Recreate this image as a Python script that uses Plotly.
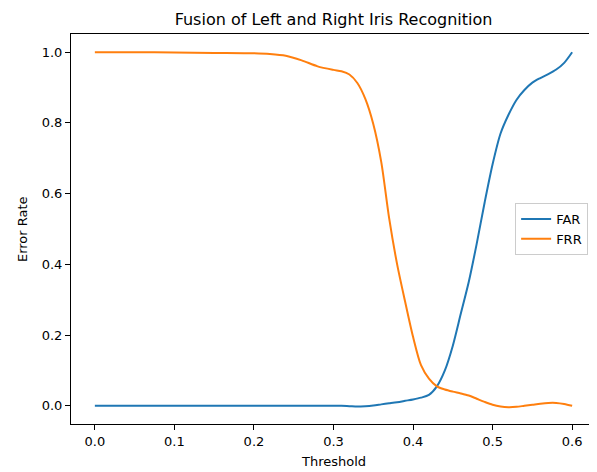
import plotly.graph_objects as go

threshold = [0.00, 0.05, 0.10, 0.15, 0.20, 0.22, 0.24, 0.26, 0.28, 0.30,
             0.31, 0.32, 0.33, 0.34, 0.35, 0.36, 0.37, 0.38, 0.39, 0.40,
             0.41, 0.42, 0.43, 0.44, 0.45, 0.46, 0.47, 0.48, 0.49, 0.50,
             0.51, 0.52, 0.53, 0.54, 0.55, 0.56, 0.57, 0.58, 0.59, 0.60]

far = [0.000, 0.000, 0.000, 0.000, 0.000, 0.000, 0.000, 0.000, 0.000, 0.000,
       0.000, -0.001, -0.002, -0.001, 0.001, 0.004, 0.007, 0.010, 0.014, 0.018,
       0.023, 0.031, 0.055, 0.100, 0.170, 0.260, 0.350, 0.458, 0.575, 0.683,
       0.770, 0.823, 0.865, 0.893, 0.914, 0.927, 0.938, 0.951, 0.970, 1.000]

frr = [1.000, 1.000, 0.999, 0.998, 0.997, 0.995, 0.990, 0.977, 0.960, 0.950,
       0.946, 0.937, 0.913, 0.868, 0.797, 0.690, 0.530, 0.400, 0.295, 0.195,
       0.115, 0.077, 0.055, 0.046, 0.040, 0.035, 0.029, 0.020, 0.011, 0.003,
       -0.002, -0.004, -0.003, 0.000, 0.003, 0.006, 0.008, 0.008, 0.005, 0.000]

x_ticks = [0.0, 0.1, 0.2, 0.3, 0.4, 0.5, 0.6]
y_ticks = [0.0, 0.2, 0.4, 0.6, 0.8, 1.0]

FONT = "DejaVu Sans"
W, H = 589, 464  # page body has an 8px margin

fig = go.Figure()
fig.add_trace(go.Scatter(x=threshold, y=far, mode="lines", name="FAR",
                         line=dict(color="#1f77b4", width=2, shape="spline", smoothing=0.8)))
fig.add_trace(go.Scatter(x=threshold, y=frr, mode="lines", name="FRR",
                         line=dict(color="#ff7f0e", width=2, shape="spline", smoothing=0.8)))

axis_common = dict(showline=True, mirror=True, linecolor="black", linewidth=1,
                   ticks="outside", ticklen=5, tickwidth=1, tickcolor="black",
                   showgrid=False, zeroline=False,
                   tickfont=dict(family=FONT, size=13, color="black"))

fig.update_layout(
    width=W, height=H,
    margin=dict(l=63, r=1, t=26, b=48),
    paper_bgcolor="white", plot_bgcolor="white",
    font=dict(family=FONT, color="black"),
    title=dict(text="Fusion of Left and Right Iris Recognition",
               font=dict(family=FONT, size=16, color="black"),
               x=0.5, xref="paper", xanchor="center",
               y=1 - 11 / H, yref="container", yanchor="middle"),
    xaxis=dict(range=[-0.03, 0.63], tickvals=x_ticks, tickformat=".1f", **axis_common),
    yaxis=dict(range=[-0.0515, 1.0515], tickvals=y_ticks, tickformat=".1f", **axis_common),
    legend=dict(x=0.985, y=0.5, xanchor="right", yanchor="middle",
                bgcolor="rgba(255,255,255,0.8)", bordercolor="#cccccc", borderwidth=1,
                font=dict(family=FONT, size=13, color="black")),
    showlegend=True,
    annotations=[
        dict(text="Threshold", xref="paper", yref="paper", x=0.5, y=-0.0949,
             xanchor="center", yanchor="middle", showarrow=False,
             font=dict(family=FONT, size=13, color="black")),
        dict(text="Error Rate", xref="paper", yref="paper", x=-0.0933, y=0.5,
             xanchor="center", yanchor="middle", showarrow=False, textangle=-90,
             font=dict(family=FONT, size=13, color="black")),
    ],
)

fig.write_html("out.html")
